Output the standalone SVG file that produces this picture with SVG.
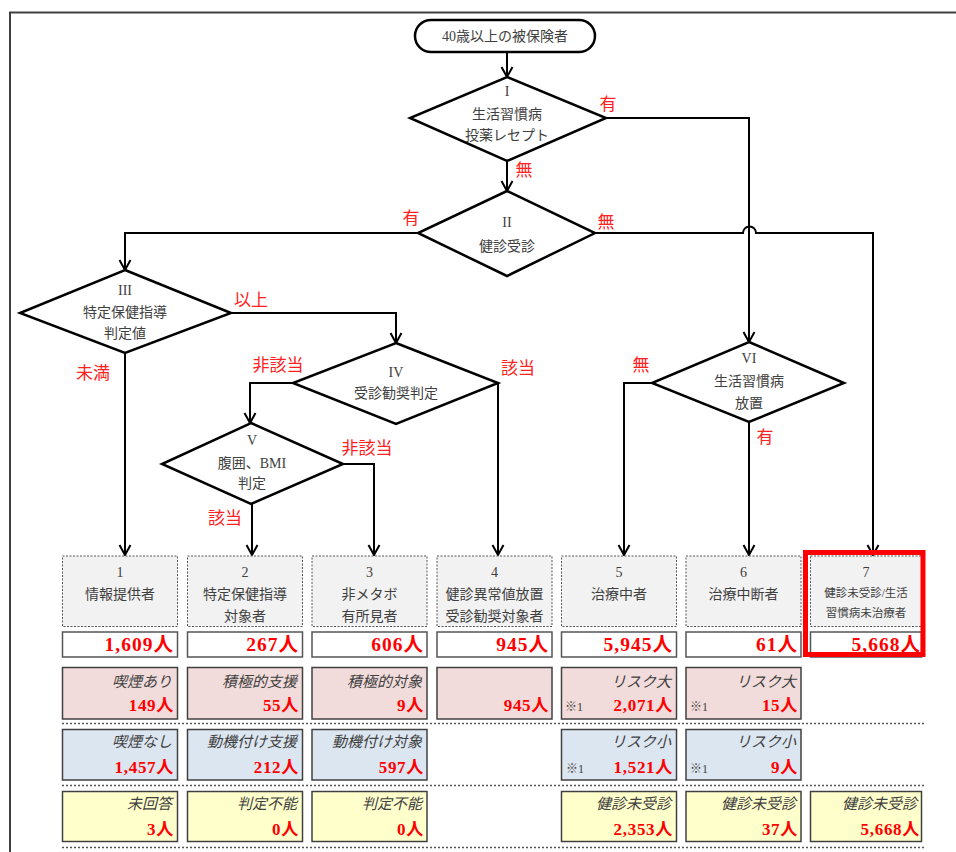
<svg xmlns="http://www.w3.org/2000/svg" width="956" height="852" viewBox="0 0 956 852">
<style>
.t{font-family:"Liberation Serif","Noto Sans CJK JP",serif;font-size:14px;fill:#404040;text-anchor:middle}
.s{font-size:11.5px}
.lb{font-family:"Liberation Serif","Noto Sans CJK JP",serif;font-size:17px;fill:#ff2020;text-anchor:middle}
.shape{fill:#fff;stroke:#000;stroke-width:2.5}
.box{fill:#f2f2f2;stroke:#555;stroke-width:1;stroke-dasharray:2 1.5}
.nb{fill:#fff;stroke:#555;stroke-width:1.5}
.num{font-family:"Liberation Serif","Noto Sans CJK JP",serif;font-size:19.5px;font-weight:bold;fill:#ff0000;text-anchor:end;letter-spacing:1px}
.rn{font-family:"Liberation Serif","Noto Sans CJK JP",serif;font-size:17px;font-weight:bold;fill:#ff0000;text-anchor:end;letter-spacing:0.7px}
.it{font-family:"Liberation Serif","Noto Sans CJK JP",serif;font-size:15px;font-style:italic;fill:#404040;text-anchor:end}
.k{font-family:"Liberation Serif","Noto Sans CJK JP",serif;font-size:12px;fill:#404040}
.pk{fill:#f2dcdb;stroke:#404040;stroke-width:1.5}
.bl{fill:#dce6f1;stroke:#404040;stroke-width:1.5}
.yl{fill:#ffffcc;stroke:#404040;stroke-width:1.5}
.sep{stroke:#555;stroke-width:1.5;stroke-dasharray:2 2;fill:none}
#connectors path{fill:none;stroke:#000;stroke-width:2}
</style>
<defs>
<marker id="ar" markerUnits="userSpaceOnUse" markerWidth="14" markerHeight="14" viewBox="-12 -7 14 14" refX="0" refY="0" orient="auto">
<path d="M-10,-5.5 L0,0 L-10,5.5" fill="none" stroke="#000" stroke-width="2"/>
</marker>
</defs>
<rect width="956" height="852" fill="#fff"/>
<path d="M10,852 V12.5 H956" fill="none" stroke="#404040" stroke-width="2"/>

<g id="connectors">
<path d="M507,52 V77" marker-end="url(#ar)"/>
<path d="M606,118 H749 V342" marker-end="url(#ar)"/>
<path d="M507,161 V191" marker-end="url(#ar)"/>
<path d="M418,233 H125 V270" marker-end="url(#ar)"/>
<path d="M595,233 H743 A6.5,6.5 0 0 1 756,233 H873 V555" marker-end="url(#ar)"/>
<path d="M231,313 H396 V343" marker-end="url(#ar)"/>
<path d="M125,353 V555" marker-end="url(#ar)"/>
<path d="M293,383 H250 V423" marker-end="url(#ar)"/>
<path d="M498,383 V555" marker-end="url(#ar)"/>
<path d="M343,464 H374 V555" marker-end="url(#ar)"/>
<path d="M252,504 V555" marker-end="url(#ar)"/>
<path d="M652,383 H624 V555" marker-end="url(#ar)"/>
<path d="M749,422 V555" marker-end="url(#ar)"/>
</g>

<g id="labels">
<text class="lb" x="608" y="110">有</text>
<text class="lb" x="524" y="176">無</text>
<text class="lb" x="411" y="224">有</text>
<text class="lb" x="606" y="228">無</text>
<text class="lb" x="251" y="306">以上</text>
<text class="lb" x="93" y="379">未満</text>
<text class="lb" x="278" y="371">非該当</text>
<text class="lb" x="518" y="374">該当</text>
<text class="lb" x="367" y="454">非該当</text>
<text class="lb" x="225" y="524">該当</text>
<text class="lb" x="641" y="371">無</text>
<text class="lb" x="765" y="443">有</text>
</g>

<g id="start">
<rect class="shape" x="415" y="20" width="180" height="32" rx="16"/>
<text class="t" x="505" y="41">40歳以上の被保険者</text>
</g>
<g id="d1">
<polygon class="shape" points="507,77 606,118 507,161 410,118"/>
<text class="t" x="507" y="96">I</text>
<text class="t" x="507" y="119">生活習慣病</text>
<text class="t" x="507" y="140">投薬レセプト</text>
</g>
<g id="d2">
<polygon class="shape" points="507,191 595,233 507,276 418,233"/>
<text class="t" x="507" y="227">II</text>
<text class="t" x="507" y="251">健診受診</text>
</g>
<g id="d3">
<polygon class="shape" points="125,270 231,313 125,353 20,313"/>
<text class="t" x="125" y="295">III</text>
<text class="t" x="125" y="317">特定保健指導</text>
<text class="t" x="125" y="338">判定値</text>
</g>
<g id="d4">
<polygon class="shape" points="396,343 498,383 396,424 293,383"/>
<text class="t" x="396" y="377">IV</text>
<text class="t" x="396" y="398">受診勧奨判定</text>
</g>
<g id="d5">
<polygon class="shape" points="251,423 343,464 251,504 162,464"/>
<text class="t" x="252" y="445">V</text>
<text class="t" x="252" y="468">腹囲、BMI</text>
<text class="t" x="252" y="488">判定</text>
</g>
<g id="d6">
<polygon class="shape" points="749,342 844,383 749,422 652,383"/>
<text class="t" x="749" y="363">VI</text>
<text class="t" x="749" y="386">生活習慣病</text>
<text class="t" x="749" y="408">放置</text>
</g>

<g id="n1">
<rect class="box" x="62.5" y="556" width="115" height="70.5"/>
<text class="t" x="120" y="577">1</text>
<text class="t" x="120" y="599">情報提供者</text>
<rect class="nb" x="62.5" y="632" width="115" height="25"/>
<text class="num" x="174" y="651">1,609人</text>
<rect class="pk" x="62.5" y="667.5" width="115" height="51.5"/>
<text class="it" x="172" y="687">喫煙あり</text>
<text class="rn" x="174" y="711">149人</text>
<rect class="bl" x="62.5" y="729.5" width="115" height="50.5"/>
<text class="it" x="172" y="747">喫煙なし</text>
<text class="rn" x="174" y="773">1,457人</text>
<rect class="yl" x="62.5" y="791.5" width="115" height="50"/>
<text class="it" x="172" y="809">未回答</text>
<text class="rn" x="174" y="835">3人</text>
</g>
<g id="n2">
<rect class="box" x="187.5" y="556" width="115" height="70.5"/>
<text class="t" x="245" y="577">2</text>
<text class="t" x="245" y="599">特定保健指導</text>
<text class="t" x="245" y="621">対象者</text>
<rect class="nb" x="187.5" y="632" width="115" height="25"/>
<text class="num" x="299" y="651">267人</text>
<rect class="pk" x="187.5" y="667.5" width="115" height="51.5"/>
<text class="it" x="297" y="687">積極的支援</text>
<text class="rn" x="299" y="711">55人</text>
<rect class="bl" x="187.5" y="729.5" width="115" height="50.5"/>
<text class="it" x="297" y="747">動機付け支援</text>
<text class="rn" x="299" y="773">212人</text>
<rect class="yl" x="187.5" y="791.5" width="115" height="50"/>
<text class="it" x="297" y="809">判定不能</text>
<text class="rn" x="299" y="835">0人</text>
</g>
<g id="n3">
<rect class="box" x="312" y="556" width="115" height="70.5"/>
<text class="t" x="369.5" y="577">3</text>
<text class="t" x="369.5" y="599">非メタボ</text>
<text class="t" x="369.5" y="621">有所見者</text>
<rect class="nb" x="312" y="632" width="115" height="25"/>
<text class="num" x="424" y="651">606人</text>
<rect class="pk" x="312" y="667.5" width="115" height="51.5"/>
<text class="it" x="422" y="687">積極的対象</text>
<text class="rn" x="424" y="711">9人</text>
<rect class="bl" x="312" y="729.5" width="115" height="50.5"/>
<text class="it" x="422" y="747">動機付け対象</text>
<text class="rn" x="424" y="773">597人</text>
<rect class="yl" x="312" y="791.5" width="115" height="50"/>
<text class="it" x="422" y="809">判定不能</text>
<text class="rn" x="424" y="835">0人</text>
</g>
<g id="n4">
<rect class="box" x="437" y="556" width="115" height="70.5"/>
<text class="t" x="494.5" y="577">4</text>
<text class="t" x="494.5" y="599">健診異常値放置</text>
<text class="t" x="494.5" y="621">受診勧奨対象者</text>
<rect class="nb" x="437" y="632" width="115" height="25"/>
<text class="num" x="549" y="651">945人</text>
<rect class="pk" x="437" y="667.5" width="115" height="51.5"/>
<text class="rn" x="549" y="711">945人</text>
</g>
<g id="n5">
<rect class="box" x="561.5" y="556" width="115" height="70.5"/>
<text class="t" x="619" y="577">5</text>
<text class="t" x="619" y="599">治療中者</text>
<rect class="nb" x="561.5" y="632" width="115" height="25"/>
<text class="num" x="673" y="651">5,945人</text>
<rect class="pk" x="561.5" y="667.5" width="115" height="51.5"/>
<text class="it" x="671" y="687">リスク大</text>
<text class="k" x="565" y="711">※1</text>
<text class="rn" x="673" y="711">2,071人</text>
<rect class="bl" x="561.5" y="729.5" width="115" height="50.5"/>
<text class="it" x="671" y="747">リスク小</text>
<text class="k" x="566" y="773">※1</text>
<text class="rn" x="673" y="773">1,521人</text>
<rect class="yl" x="561.5" y="791.5" width="115" height="50"/>
<text class="it" x="671" y="809">健診未受診</text>
<text class="rn" x="673" y="835">2,353人</text>
</g>
<g id="n6">
<rect class="box" x="686" y="556" width="115" height="70.5"/>
<text class="t" x="743.5" y="577">6</text>
<text class="t" x="743.5" y="599">治療中断者</text>
<rect class="nb" x="686" y="632" width="115" height="25"/>
<text class="num" x="798" y="651">61人</text>
<rect class="pk" x="686" y="667.5" width="115" height="51.5"/>
<text class="it" x="796" y="687">リスク大</text>
<text class="k" x="690" y="711">※1</text>
<text class="rn" x="798" y="711">15人</text>
<rect class="bl" x="686" y="729.5" width="115" height="50.5"/>
<text class="it" x="796" y="747">リスク小</text>
<text class="k" x="690" y="773">※1</text>
<text class="rn" x="798" y="773">9人</text>
<rect class="yl" x="686" y="791.5" width="115" height="50"/>
<text class="it" x="796" y="809">健診未受診</text>
<text class="rn" x="798" y="835">37人</text>
</g>
<g id="n7">
<rect class="box" x="810.5" y="556" width="111" height="70.5"/>
<text class="t" x="866" y="577">7</text>
<text class="t s" x="866" y="597">健診未受診/生活</text>
<text class="t s" x="866" y="617">習慣病未治療者</text>
<rect class="nb" x="810.5" y="632" width="111" height="25"/>
<text class="num" x="921" y="651">5,668人</text>
<rect class="yl" x="810.5" y="791.5" width="111" height="50"/>
<text class="it" x="917" y="809">健診未受診</text>
<text class="rn" x="920" y="835">5,668人</text>
<rect x="805.5" y="552.5" width="117.5" height="102" fill="none" stroke="#ff0000" stroke-width="5"/>
</g>

<g id="separators">
<path class="sep" d="M62,723.5 H926"/>
<path class="sep" d="M62,785.5 H926"/>
<path class="sep" d="M62,847.5 H926"/>
</g>
</svg>
